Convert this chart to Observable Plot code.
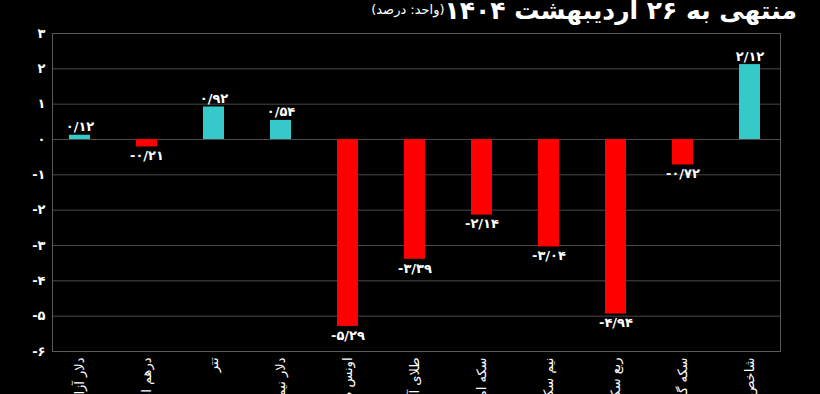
<!DOCTYPE html>
<html>
<head>
<meta charset="utf-8">
<script src="https://cdn.jsdelivr.net/npm/d3@7"></script>
<script src="https://cdn.jsdelivr.net/npm/@observablehq/plot@0.6"></script>
<style>
  html, body { margin: 0; padding: 0; background: #000; overflow: hidden; }
  body { width: 820px; height: 394px; font-family: "DejaVu Sans", sans-serif; color: #fff; }
  #title { height: 24px; direction: rtl; text-align: right; padding-right: 23px; white-space: nowrap; overflow: visible; }
  #title .main { font-size: 25px; font-weight: bold; line-height: 24px; position: relative; top: -1px; }
  #title .unit { font-size: 13px; line-height: 13px; vertical-align: top; position: relative; top: 3px; }
  #chart svg { display: block; overflow: visible; }
</style>
</head>
<body>
<div id="title"><span class="main">منتهی به ۲۶ اردیبهشت ۱۴۰۴</span><span class="unit">(واحد: درصد)</span></div>
<div id="chart"></div>
<script>
const categories = ["دلار آزاد", "درهم امارات", "تتر", "دلار نیمایی", "اونس طلا", "طلای آب شده", "سکه امامی", "نیم سکه", "ربع سکه", "سکه گرمی", "شاخص"];
const values = [0.12, -0.21, 0.92, 0.54, -5.29, -3.39, -2.14, -3.04, -4.94, -0.72, 2.12];
const yTicks = [3, 2, 1, 0, -1, -2, -3, -4, -5, -6];

const faDigits = "۰۱۲۳۴۵۶۷۸۹";
const toFa = s => String(s).replace(/\d/g, d => faDigits[+d]).replace(".", "/");

const data = categories.map((c, i) => ({cat: c, value: values[i]}));
const pos = data.filter(d => d.value >= 0);
const neg = data.filter(d => d.value < 0);

const chart = Plot.plot({
  width: 820,
  height: 370,
  marginTop: 9,
  marginBottom: 43,
  marginLeft: 52,
  marginRight: 40,
  style: {background: "#000", color: "#fff", fontFamily: "DejaVu Sans, sans-serif"},
  x: {domain: categories, paddingInner: 0.69, paddingOuter: 0.26, align: 0.45},
  y: {domain: [-6, 3]},
  marks: [
    Plot.gridY(yTicks, {stroke: "#4a4a4a", strokeOpacity: 1, strokeWidth: 1}),
    Plot.frame({stroke: "#5a5a5a", strokeWidth: 1}),
    Plot.barY(data, {x: "cat", y: "value", fill: d => d.value >= 0 ? "#36c9c9" : "#ff0000"}),
    Plot.text(pos, {x: "cat", y: "value", text: d => toFa(d.value.toFixed(2)), lineAnchor: "bottom", dy: -4, fill: "#fff", fontSize: 13, fontWeight: "bold"}),
    Plot.text(neg, {x: "cat", y: "value", text: d => toFa(d.value.toFixed(2)), lineAnchor: "top", dy: 4, fill: "#fff", fontSize: 13, fontWeight: "bold"}),
    Plot.axisY(yTicks, {tickSize: 0, tickPadding: 7, tickFormat: d => toFa(d), fontSize: 13, fontWeight: "bold", fill: "#fff", label: null}),
    Plot.axisX({tickRotate: -90, tickSize: 0, tickPadding: 6, fontSize: 13, fill: "#fff", label: null})
  ]
});
document.getElementById("chart").appendChild(chart);
</script>
</body>
</html>
